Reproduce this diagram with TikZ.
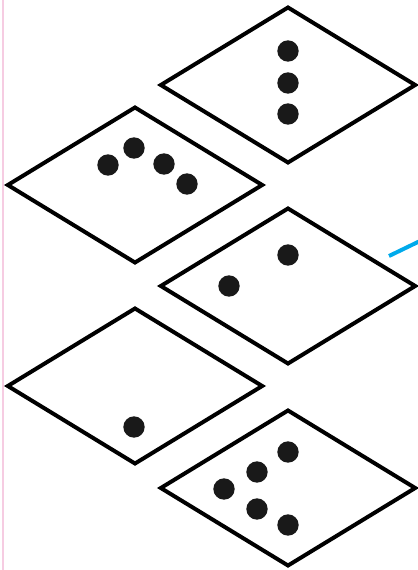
\documentclass[tikz,border=0pt]{standalone}
\usetikzlibrary{shapes.geometric}
\definecolor{marginpink}{RGB}{246,204,226}
\definecolor{pointerblue}{RGB}{0,170,235}
\begin{document}
\begin{tikzpicture}[
    x=0.03cm, y=-0.03cm,
    tile/.style={
        draw,
        diamond,
        line width=3.4pt,
        line join=miter,
        inner sep=0pt,
        minimum width=7.68cm,
        minimum height=4.7cm
    },
    dot/.style={
        circle,
        fill=black!90,
        inner sep=0pt,
        minimum size=0.64cm
    }
]
    \useasboundingbox (0,0) rectangle (417,570);

    % margin rule
    \coordinate (mtop) at (3,0);
    \coordinate (mbot) at (3,570);
    \draw[marginpink, line width=1.8pt] (mtop) -- (mbot);

    % tiles
    \node[tile] (three) at (288,85) {};
    \node[tile] (four)  at (135,185) {};
    \node[tile] (two)   at (288,286) {};
    \node[tile] (one)   at (135,386) {};
    \node[tile] (five)  at (288,488) {};

    % dots
    \node[dot] (t1) at (288,51) {};
    \node[dot] (t2) at (288,83) {};
    \node[dot] (t3) at (288,114) {};

    \node[dot] (f1) at (108,165) {};
    \node[dot] (f2) at (134,148) {};
    \node[dot] (f3) at (164,164) {};
    \node[dot] (f4) at (187,184) {};

    \node[dot] (w1) at (288,255) {};
    \node[dot] (w2) at (229,286) {};

    \node[dot] (o1) at (134,427) {};

    \node[dot] (v1) at (288,452) {};
    \node[dot] (v2) at (257,472) {};
    \node[dot] (v3) at (224,489) {};
    \node[dot] (v4) at (257,509) {};
    \node[dot] (v5) at (288,525) {};

    % pointer
    \coordinate (ptail) at (389,256);
    \coordinate (phead) at (420,241);
    \draw[pointerblue, line width=3.4pt] (ptail) -- (phead);

\end{tikzpicture}
\end{document}
